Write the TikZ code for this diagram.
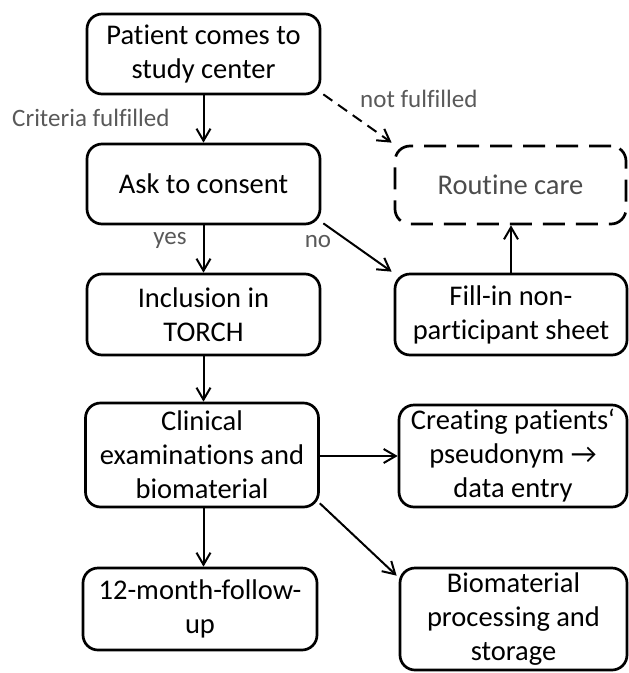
\documentclass[tikz,border=0pt]{standalone}
\usepackage{fontspec}
\setmainfont[Ligatures={NoCommon,NoRare,NoContextual},Contextuals=NoAlternate]{Carlito}
\usetikzlibrary{arrows.meta,calc}
\begin{document}
\begin{tikzpicture}[x=1pt,y=-1pt,
  box/.style={draw, line width=2.7pt, rounded corners=15pt, align=center,
    font=\fontsize{28.5}{34}\selectfont, inner sep=0pt},
  lbl/.style={text=black!65, font=\fontsize{25}{28}\selectfont, inner sep=0pt},
  arr/.style={line width=2pt, -{Straight Barb[length=12pt,width=14pt,line width=2pt]}}
]
\useasboundingbox (0,0) rectangle (629,673);
\node[box, minimum width=233pt, minimum height=80pt] (b1) at (203.5,54) {Patient comes to\\study center};
\node[box, minimum width=233pt, minimum height=80pt] (b2) at (203.5,184) {Ask to consent};
\node[box, minimum width=233pt, minimum height=81pt] (b3) at (203.5,314.5) {Inclusion in\\TORCH};
\node[box, minimum width=233pt, minimum height=104pt] (b4) at (202,455) {Clinical\\examinations and\\biomaterial};
\node[box, minimum width=234pt, minimum height=82pt] (b5) at (200,609) {12-month-follow-\\up};
\node[box, dashed, dash pattern=on 22pt off 11pt, text=black!70, minimum width=231pt, minimum height=78pt] (rc) at (510.5,185) {Routine care};
\node[box, minimum width=232pt, minimum height=81pt] (fi) at (511,314.5) {Fill-in non-\\participant sheet};
\node[box, minimum width=228pt, minimum height=102pt] (cp) at (513,456) {Creating patients‘\\pseudonym →\\data entry};
\node[box, minimum width=227pt, minimum height=102pt] (bp) at (513.5,619) {Biomaterial\\processing and\\storage};

\node[lbl, anchor=west] (l1) at (12,118) {Criteria fulfilled};
\node[lbl, anchor=west] (l2) at (360,99) {not fulfilled};
\node[lbl] (l3) at (170,240) {yes};
\node[lbl] (l4) at (318,242) {no};

\draw[arr] (b1.south) -- (b2.north);
\draw[arr, dashed, dash pattern=on 11pt off 7pt] ($(b1.south east)+(2,-1)$) -- ($(rc.north west)+(-2,-2)$);
\draw[arr] (b2.south) -- (b3.north);
\draw[arr] ($(b2.south east)+(2,-2)$) -- ($(fi.north west)+(-2,-1)$);
\draw[arr] (fi.north) -- (fi.north |- rc.south);
\draw[arr] (b3.south) -- (b3.south |- b4.north);
\draw[arr] (b4.east |- cp.west) -- (cp.west);
\draw[arr] (b3.south |- b4.south) -- (b3.south |- b5.north);
\draw[arr] ($(b4.south east)+(0,-5)$) -- ($(bp.north west)+(-2,9)$);
\end{tikzpicture}
\end{document}
